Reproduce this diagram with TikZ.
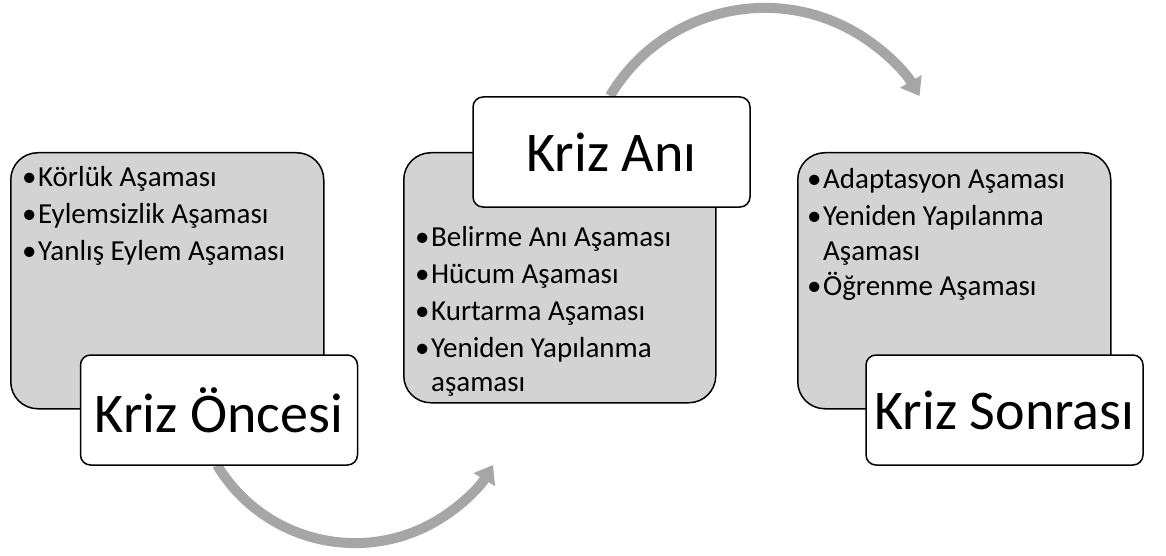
\documentclass[tikz,border=0pt]{standalone}
\usepackage{fontspec}
\setmainfont{Carlito}
\usetikzlibrary{arrows.meta}
\definecolor{boxgray}{RGB}{211,211,211}
\definecolor{arrowgray}{RGB}{166,166,166}
\newcommand{\firstline}{\rule{0pt}{22pt}}
\newcommand{\bul}{•\kern1.5pt}
\newcommand{\nobul}{\phantom{•}\kern1.5pt}
\begin{document}
\begin{tikzpicture}[x=1pt,y=-1pt,
  graybox/.style={draw=black, line width=1.5pt, fill=boxgray, rounded corners=27pt, anchor=north west, inner sep=0pt},
  whitebox/.style={draw=black, line width=1.5pt, fill=white, rounded corners=10pt, anchor=center, inner sep=0pt, minimum width=277pt, minimum height=110pt, font=\fontsize{56}{60}\selectfont},
  listtext/.style={anchor=north west, align=left, inner sep=0pt, font=\fontsize{29}{37}\selectfont},
  flow/.style={draw=arrowgray, line width=10pt, -{Triangle[length=17pt,width=24pt]}}]
\useasboundingbox (0,0) rectangle (1166,556);
% connectors (drawn behind the boxes)
\coordinate (s1) at (217,465);
\coordinate (s2) at (610,96);
\draw[flow] (s1) arc[start angle=149, end angle=31, radius=161];
\draw[flow] (s2) arc[start angle=210.7, end angle=329.3, radius=180];
% left stage
\node[graybox, minimum width=313pt, minimum height=256pt] (g1) at (10,152) {};
\node[listtext] (t1) at (22,164) {\firstline\bul Körlük Aşaması\\\bul Eylemsizlik Aşaması\\\bul Yanlış Eylem Aşaması};
\node[whitebox] (w1) at (219,410) {Kriz Öncesi};
% middle stage
\node[graybox, minimum width=312pt, minimum height=250pt] (g2) at (403,152) {};
\node[listtext] (t2) at (415,224) {\firstline\bul Belirme Anı Aşaması\\\bul Hücum Aşaması\\\bul Kurtarma Aşaması\\\bul Yeniden Yapılanma\\[-3pt]\nobul aşaması};
\node[whitebox] (w2) at (611.5,152) {Kriz Anı};
% right stage
\node[graybox, minimum width=313pt, minimum height=256pt] (g3) at (797,152) {};
\node[listtext] (t3) at (807,166) {\firstline\bul Adaptasyon Aşaması\\\bul Yeniden Yapılanma\\[-2pt]\nobul Aşaması\\[-2pt]\bul Öğrenme Aşaması};
\node[whitebox] (w3) at (1004.5,410) {Kriz Sonrası};
\end{tikzpicture}
\end{document}
